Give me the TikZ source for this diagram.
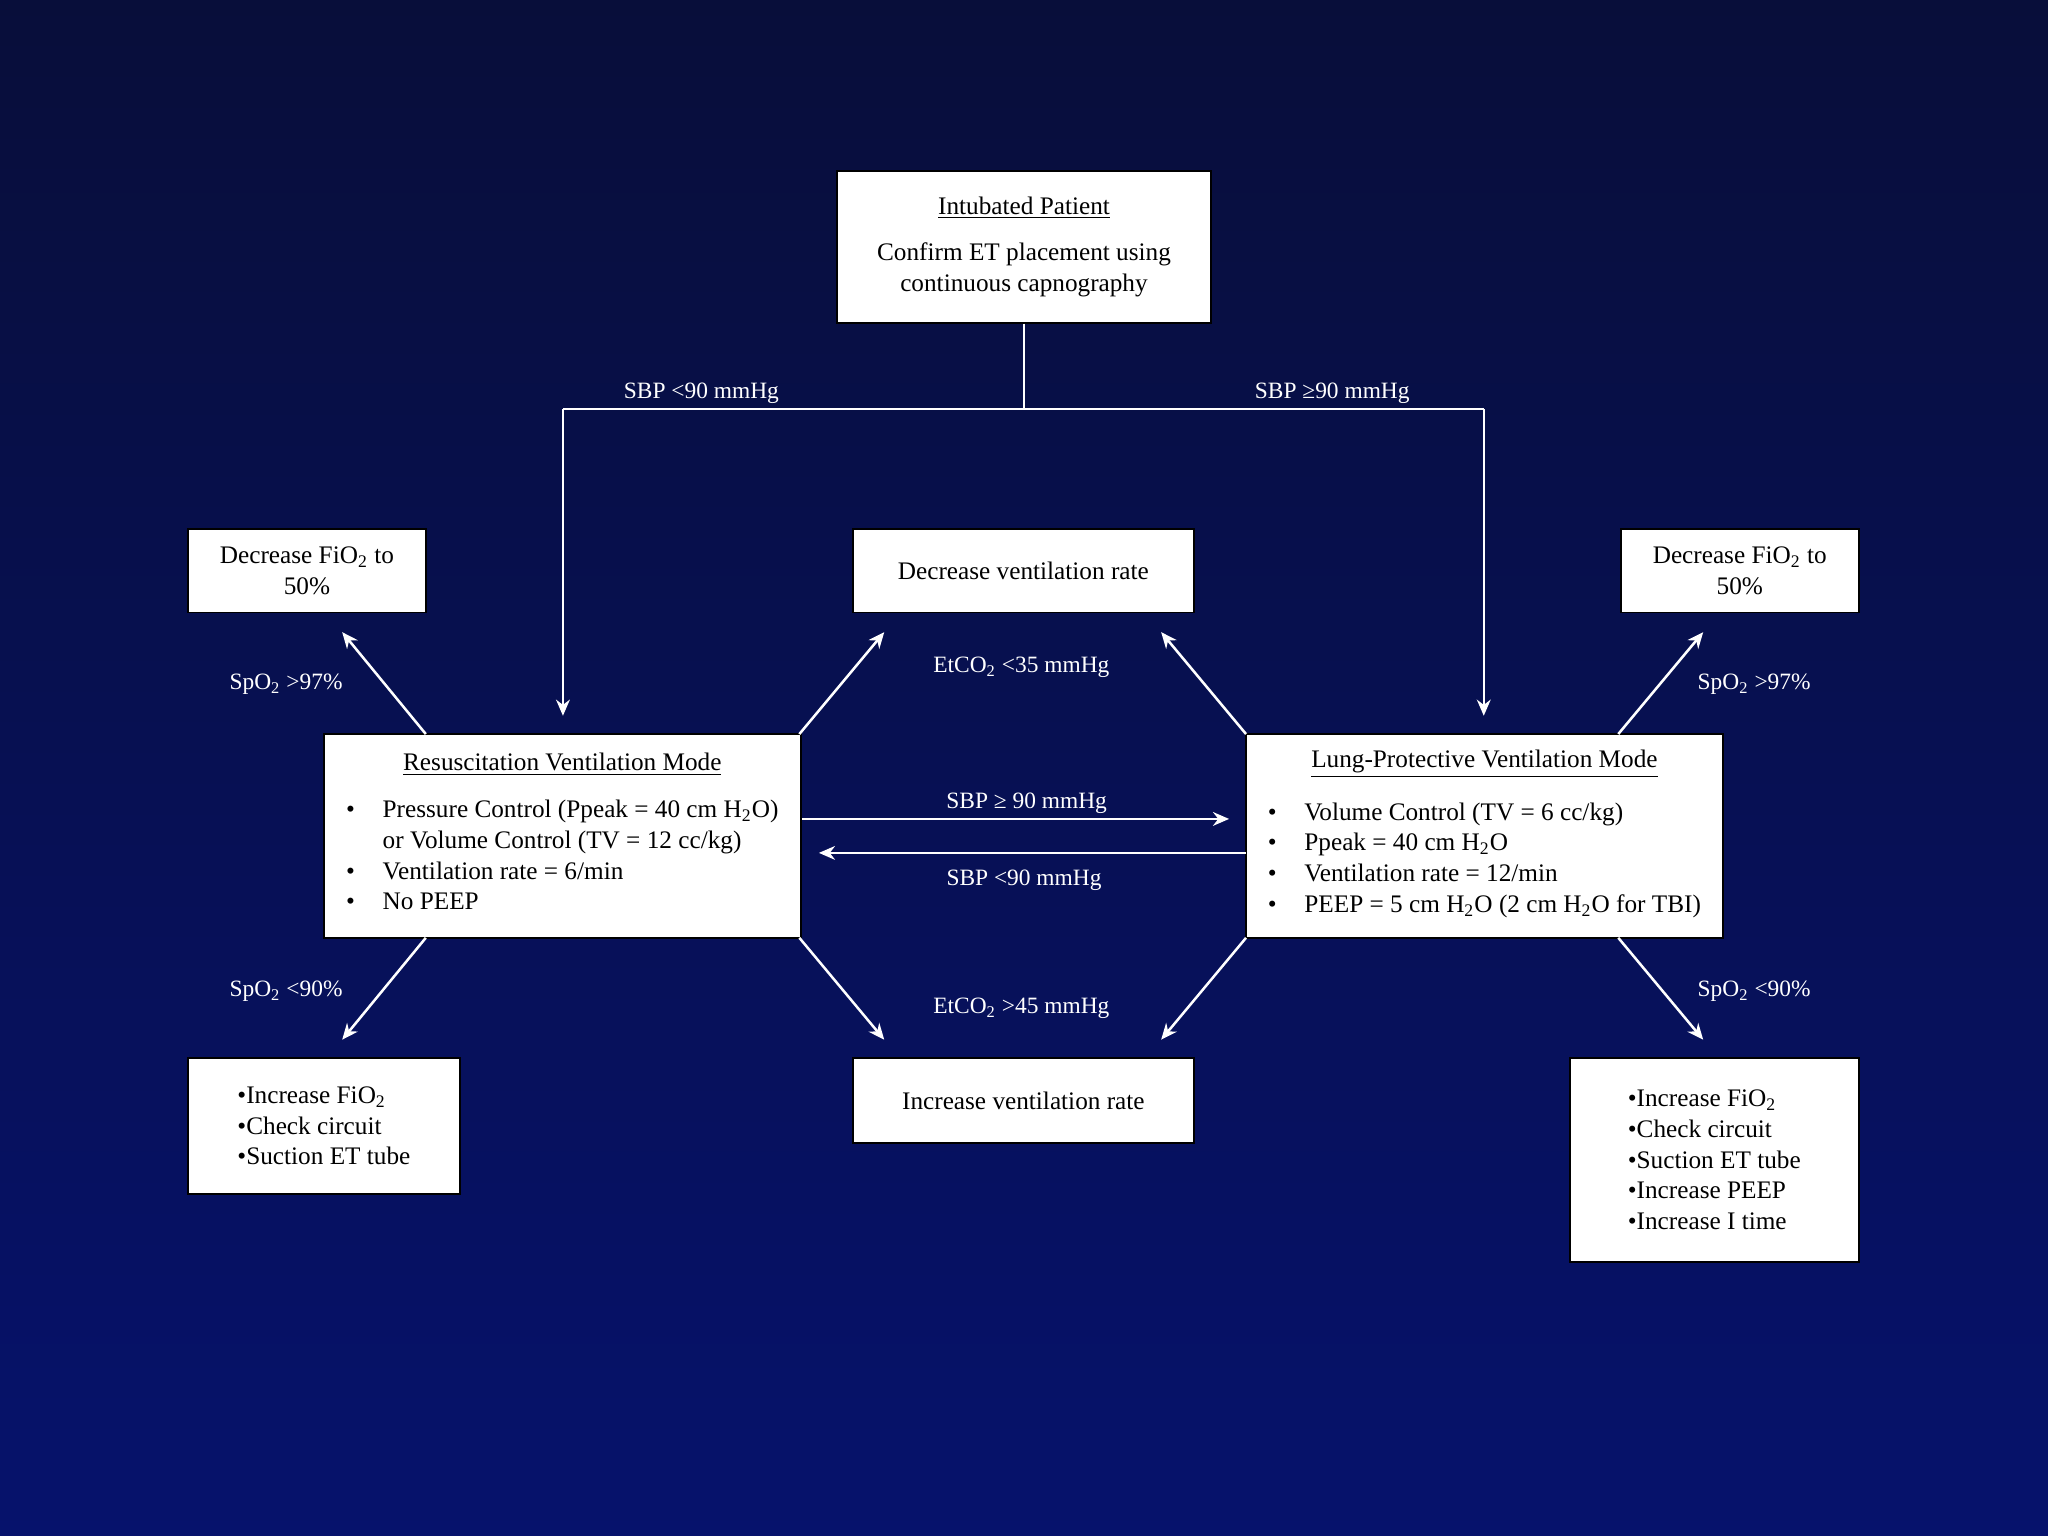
\documentclass[tikz,border=0pt]{standalone}
\usepackage{fontspec}
\setmainfont{Liberation Serif}
\usetikzlibrary{arrows.meta}

\tikzset{
  box/.style={draw=black, line width=0.8pt, fill=white, text=black, align=center,
    font=\fontsize{11}{13.4}\selectfont, inner sep=0pt},
  flow/.style={draw=white, line width=1.1pt, -{Stealth[length=7pt,width=6pt]}},
  link/.style={draw=white, line width=1.1pt},
  lbl/.style={text=white, font=\fontsize{10.2}{12}\selectfont}
}
\newcommand{\sub}[1]{\textsubscript{#1}}

\begin{document}
\begin{tikzpicture}[x=0.02cm, y=-0.02cm]
\shade[top color={rgb,255:red,8;green,14;blue,58}, bottom color={rgb,255:red,6;green,18;blue,108}]
  (0,0) rectangle (1568,1176);
\useasboundingbox (0,0) rectangle (1568,1176);

% boxes
\node[box, minimum width=5.72cm, minimum height=2.32cm] (top) at (784,189)
  {\underline{Intubated Patient}\\[7pt] Confirm ET placement using\\ continuous capnography};
\node[box, minimum width=7.3cm, minimum height=3.12cm] (resus) at (430.5,640)
  {\underline{Resuscitation Ventilation Mode}\\[8pt]
   \begin{tabular}{@{}l@{\hspace{1.1em}}l@{}}
   \textbullet & Pressure Control (Ppeak = 40 cm H\sub{2}O)\\
   & or Volume Control (TV = 12 cc/kg)\\
   \textbullet & Ventilation rate = 6/min\\
   \textbullet & No PEEP
   \end{tabular}};
\node[box, minimum width=7.3cm, minimum height=3.12cm] (lung) at (1136.5,640)
  {\underline{Lung-Protective Ventilation Mode}\\[8pt]
   \begin{tabular}{@{}l@{\hspace{1.1em}}l@{}}
   \textbullet & Volume Control (TV = 6 cc/kg)\\
   \textbullet & Ppeak = 40 cm H\sub{2}O\\
   \textbullet & Ventilation rate = 12/min\\
   \textbullet & PEEP = 5 cm H\sub{2}O (2 cm H\sub{2}O for TBI)
   \end{tabular}};
\node[box, minimum width=3.64cm, minimum height=1.28cm] (decl) at (235,437)
  {Decrease FiO\sub{2} to\\ 50\%};
\node[box, minimum width=5.22cm, minimum height=1.28cm] (decv) at (783.5,437)
  {Decrease ventilation rate};
\node[box, minimum width=3.64cm, minimum height=1.28cm] (decr) at (1332,437)
  {Decrease FiO\sub{2} to\\ 50\%};
\node[box, minimum width=4.16cm, minimum height=2.08cm, align=left] (incl) at (248,862)
  {\textbullet Increase FiO\sub{2}\\ \textbullet Check circuit\\ \textbullet Suction ET tube\hspace{2.2em}};
\node[box, minimum width=5.22cm, minimum height=1.3cm] (incv) at (783.5,842.5)
  {Increase ventilation rate};
\node[box, minimum width=4.42cm, minimum height=3.12cm, align=left] (incr) at (1312.5,888)
  {\textbullet Increase FiO\sub{2}\\ \textbullet Check circuit\\ \textbullet Suction ET tube\\
   \textbullet Increase PEEP\\ \textbullet Increase I time\hspace{0.8em}};

% split from the top box
\coordinate (split) at (784,313);
\coordinate (splitl) at (431,313);
\coordinate (splitr) at (1136,313);
\coordinate (inl) at (431,548);
\coordinate (inr) at (1136,548);
\draw[link] (top) -- (split);
\draw[link] (splitl) -- (splitr);
\draw[flow] (splitl) -- (inl);
\draw[flow] (splitr) -- (inr);
\node[lbl] at (537,301) {SBP <90 mmHg};
\node[lbl] at (1020,301) {SBP ≥90 mmHg};

% resuscitation mode exits
\coordinate (rnw) at (326,562);  \coordinate (rne) at (612,562);
\coordinate (rsw) at (326,718);  \coordinate (rse) at (612,718);
\coordinate (lnw) at (954,562);  \coordinate (lne) at (1239,562);
\coordinate (lsw) at (954,718);  \coordinate (lse) at (1239,718);
\draw[flow] (rnw) -- (262,484);
\draw[flow] (rne) -- (677,484);
\draw[flow] (rsw) -- (262,796);
\draw[flow] (rse) -- (677,796);
\draw[flow] (lnw) -- (889,484);
\draw[flow] (lne) -- (1304,484);
\draw[flow] (lsw) -- (889,796);
\draw[flow] (lse) -- (1304,796);

% switching between modes
\coordinate (ra) at (614,627); \coordinate (la) at (941,627);
\coordinate (lb) at (954,653); \coordinate (rb) at (627,653);
\draw[flow] (ra) -- (la);
\draw[flow] (lb) -- (rb);
\node[lbl] at (786,615) {SBP ≥ 90 mmHg};
\node[lbl] at (784,674) {SBP <90 mmHg};

% conditions
\node[lbl] at (219,524) {SpO\sub{2} >97\%};
\node[lbl] at (1343,524) {SpO\sub{2} >97\%};
\node[lbl] at (782,511) {EtCO\sub{2} <35 mmHg};
\node[lbl] at (219,759) {SpO\sub{2} <90\%};
\node[lbl] at (1343,759) {SpO\sub{2} <90\%};
\node[lbl] at (782,772) {EtCO\sub{2} >45 mmHg};
\end{tikzpicture}
\end{document}
